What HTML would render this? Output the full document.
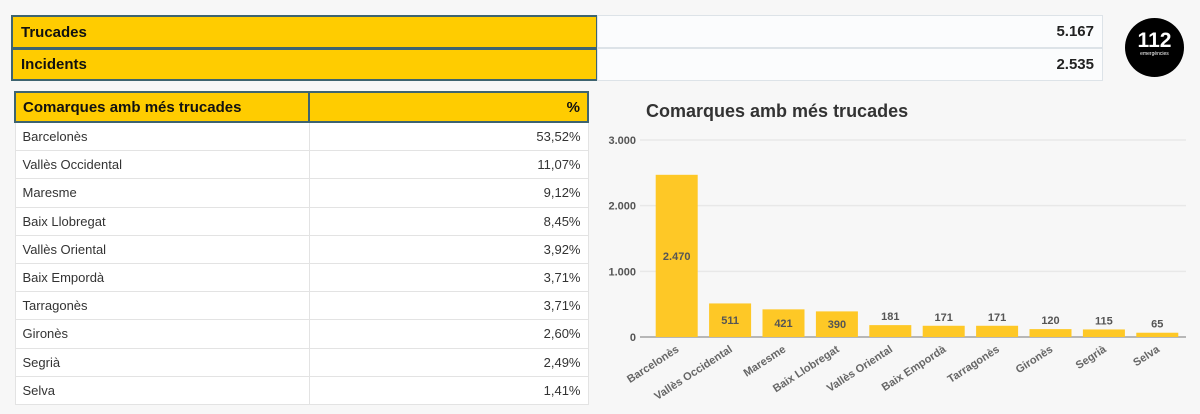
<!DOCTYPE html>
<html><head><meta charset="utf-8"><style>
body{margin:0;width:1200px;height:414px;background:#f7f7f7;font-family:"Liberation Sans",Arial,sans-serif;position:relative;overflow:hidden}
.abs{position:absolute;box-sizing:border-box}
.ybar{background:#ffcc00;border:2px solid #3e6470;font-weight:bold;font-size:15px;padding-left:8px;display:flex;align-items:center;color:#111}
.val{background:#fbfcfd;border:1px solid #dde3e8;font-weight:bold;font-size:15px;color:#222;display:flex;align-items:center;justify-content:flex-end;padding-right:8px}
table{border-collapse:collapse;font-size:13px;color:#333}
td{border:1px solid #e3e3e3;height:27.2px;padding:0 7px;background:#fff}
th{background:#ffcc00;border:2px solid #3e6470;height:28px;font-size:15px;padding:0 7px;color:#111}
</style></head><body>
<div class="abs ybar" style="left:11px;top:15px;width:587px;height:34px">Trucades</div>
<div class="abs ybar" style="left:11px;top:48px;width:587px;height:33px">Incidents</div>
<div class="abs val" style="left:597px;top:15px;width:506px;height:33px">5.167</div>
<div class="abs val" style="left:597px;top:48px;width:506px;height:33px">2.535</div>
<div class="abs" style="left:1125px;top:18px;width:59px;height:59px;border-radius:50%;background:#000;color:#fff;text-align:center"><div style="font-weight:bold;font-size:21px;margin-top:13px;line-height:20px">112</div><div style="font-size:5px">emergències</div></div>
<table class="abs" style="left:14px;top:91px;width:575px">
<tr><th style="text-align:left;width:278px">Comarques amb més trucades</th><th style="text-align:right">%</th></tr>
<tbody id="tb"></tbody></table>
<svg class="abs" style="left:0;top:0" width="1200" height="414" id="ch">
<text x="646" y="117" font-size="18" font-weight="bold" fill="#333">Comarques amb més trucades</text>
</svg>
<script>
const cats=["Barcelonès","Vallès Occidental","Maresme","Baix Llobregat","Vallès Oriental","Baix Empordà","Tarragonès","Gironès","Segrià","Selva"];
const pcts=["53,52%","11,07%","9,12%","8,45%","3,92%","3,71%","3,71%","2,60%","2,49%","1,41%"];
const vals=[2470,511,421,390,181,171,171,120,115,65];
const valLabels=["2.470","511","421","390","181","171","171","120","115","65"];
const ticks=[0,1000,2000,3000];
const tickLabels=["0","1.000","2.000","3.000"];
const tb=document.getElementById('tb');
cats.forEach((c,i)=>{const tr=document.createElement('tr');


tr.innerHTML='<td>'+c+'</td><td style="text-align:right">'+pcts[i]+'</td>';tb.appendChild(tr);});
const ns='http://www.w3.org/2000/svg',svg=document.getElementById('ch');
const x0=650,x1=1184,y0=337,y1=140,max=3000;
const y=v=>y0-(v/max)*(y0-y1);const bw=(x1-x0)/cats.length;
function el(t,a,txt){const e=document.createElementNS(ns,t);for(const k in a)e.setAttribute(k,a[k]);if(txt!=null)e.textContent=txt;svg.appendChild(e);return e;}
ticks.forEach((t,i)=>{
const g=el('line',{x1:x0-10,x2:x1+2,y1:y(t),y2:y(t),stroke:t?'#e8e8e8':'#777','stroke-width':t?1.5:1});


const l=el('text',{x:x0-14,y:y(t)+4,'text-anchor':'end','font-size':11,'font-weight':'bold',fill:'#555'},tickLabels[i]);

});
cats.forEach((c,i)=>{const cx=x0+bw*(i+0.5),h=y0-y(vals[i]);
const r=el('rect',{x:cx-21,y:y(vals[i]),width:42,height:h,fill:'#fec826'});


const ly=h>25?y(vals[i])+h/2+4:y(vals[i])-5;
const t=el('text',{x:cx,y:ly,'text-anchor':'middle','font-size':11,'font-weight':'bold',fill:'#555'},valLabels[i]);


const xl=el('text',{x:cx+3,y:y0+14,'text-anchor':'end','font-size':11,'font-weight':'bold',fill:'#666',transform:'rotate(-33 '+(cx+3)+' '+(y0+14)+')'},c);

});
</script>
</body></html>
